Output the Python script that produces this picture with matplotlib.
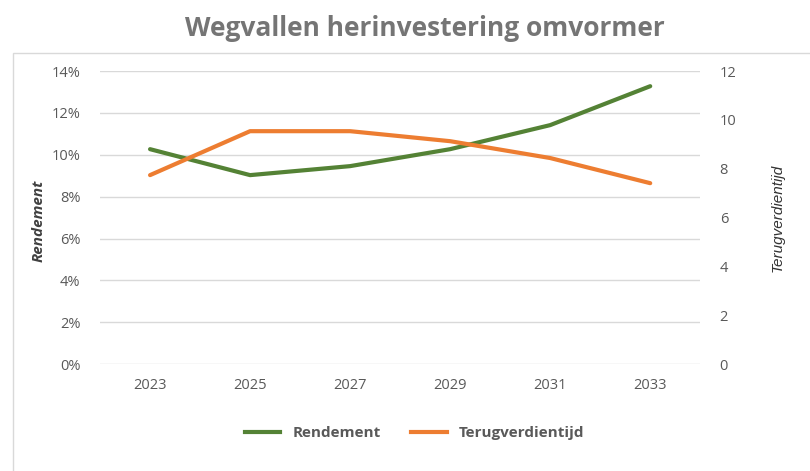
import matplotlib.pyplot as plt
from matplotlib.patches import Rectangle
from matplotlib.ticker import FuncFormatter
from matplotlib.lines import Line2D

years = ['2023', '2025', '2027', '2029', '2031', '2033']
rendement = [10.27, 9.03, 9.46, 10.27, 11.42, 13.28]        # %
terugverdientijd = [7.74, 9.54, 9.54, 9.13, 8.44, 7.41]     # jaren

green = '#548235'
orange = '#ED7D31'
txt = '#595959'
font = 'Open Sans'

fig = plt.figure(figsize=(8.1, 4.71), dpi=100)
ax = fig.add_axes([0.1235, 0.227, 0.741, 0.622])
ax2 = ax.twinx()

x = range(len(years))
ax.plot(x, rendement, color=green, lw=3, solid_capstyle='round', zorder=3)
ax2.plot(x, terugverdientijd, color=orange, lw=3, solid_capstyle='round', zorder=3)

ax.set_xlim(-0.5, 5.5)
ax.set_ylim(0, 14)
ax2.set_ylim(0, 12)
ax.set_yticks(range(0, 15, 2))
ax2.set_yticks(range(0, 13, 2))
ax.yaxis.set_major_formatter(FuncFormatter(lambda v, p: f'{v:.0f}%'))
ax.set_xticks(list(x))
ax.set_xticklabels(years)

ax.grid(axis='y', color='#d9d9d9', lw=1)
ax.set_axisbelow(True)
for a in (ax, ax2):
    for s in a.spines.values():
        s.set_visible(False)
    a.tick_params(length=0, labelsize=10.5, colors=txt)
    for lab in a.get_xticklabels() + a.get_yticklabels():
        lab.set_family(font)
ax.tick_params(axis='y', pad=14)
ax2.tick_params(axis='y', pad=14)
ax.tick_params(axis='x', pad=10)

ax.set_ylabel('Rendement', fontsize=11, fontweight='bold', style='italic',
              color='#404040', family=font)
ax.yaxis.set_label_coords(-0.09, 0.49)
ax2.set_ylabel('Terugverdientijd', fontsize=11, fontweight='medium', style='italic',
               color='#333333', family='Liberation Sans')
ax2.yaxis.set_label_coords(1.117, 0.5)

fig.text(0.524, 0.94, 'Wegvallen herinvestering omvormer', ha='center', va='center',
         fontsize=19, fontweight='bold', color='#757575', family=font)

handles = [Line2D([], [], color=green, lw=3), Line2D([], [], color=orange, lw=3)]
leg = fig.legend(handles, ['Rendement', 'Terugverdientijd'], loc='center',
                 bbox_to_anchor=(0.512, 0.08), ncol=2, frameon=False,
                 handlelength=2.3, columnspacing=2.0,
                 prop={'family': font, 'size': 11, 'weight': 'bold'})
for t in leg.get_texts():
    t.set_color(txt)

fig.patches.append(Rectangle((0.016, -0.1), 1.1, 0.987, transform=fig.transFigure,
                             fill=False, edgecolor='#d9d9d9', lw=1))

fig.savefig('out.png', dpi=100)
